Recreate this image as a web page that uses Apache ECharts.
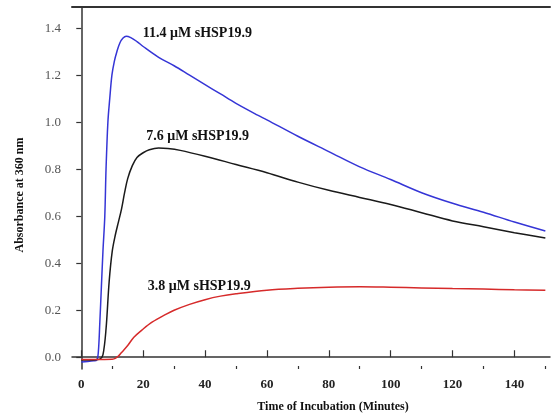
<!DOCTYPE html>
<html>
<head>
<meta charset="utf-8">
<script src="https://cdn.jsdelivr.net/npm/echarts@6/dist/echarts.min.js"></script>
<style>html,body{margin:0;padding:0;background:#fff}#c{width:551px;height:418px}</style>
</head>
<body>
<div id="c"></div>
<script>
var xTicks = [0, 20, 40, 60, 80, 100, 120, 140];
var xMinorTicks = [10, 30, 50, 70, 90, 110, 130, 150];
var yTicks = [0, 0.2, 0.4, 0.6, 0.8, 1.0, 1.2, 1.4];

var tBlue = [0,2,4,5,5.5,6,6.5,7,7.6,8,8.6,9.2,9.9,10.7,11.5,12.5,13.5,14.5,16,18,20,25,30,35,40,45,50,57,60,70,80,90,100,110,120,130,140,150];
var aBlue = [-0.02,-0.018,-0.015,-0.012,0.02,0.15,0.3,0.45,0.6,0.8,1.0,1.1,1.2,1.26,1.3,1.338,1.358,1.366,1.36,1.343,1.322,1.276,1.24,1.2,1.16,1.12,1.08,1.03,1.01,0.94,0.875,0.81,0.756,0.70,0.655,0.617,0.575,0.537];

var tBlack = [0,3,5,6,7,8,9,10,11,12,13,14,15,16.5,18,20,22,25,28,32,40,50,60,70,80,90,100,110,120,130,140,150];
var aBlack = [-0.012,-0.012,-0.01,-0.008,0.01,0.12,0.32,0.45,0.52,0.575,0.63,0.7,0.76,0.815,0.85,0.87,0.883,0.89,0.888,0.88,0.855,0.82,0.785,0.745,0.71,0.68,0.65,0.615,0.58,0.555,0.53,0.507];

var tRed = [0,5,10,11,12,13,15,17,20,23,27,30,35,40,45,50,60,70,80,90,100,110,120,130,140,150];
var aRed = [-0.01,-0.01,-0.008,-0.005,0.005,0.02,0.05,0.085,0.12,0.15,0.18,0.2,0.225,0.245,0.26,0.27,0.285,0.293,0.298,0.3,0.298,0.295,0.292,0.29,0.287,0.285];

var labels = ['11.4 \u03bcM sHSP19.9', '7.6 \u03bcM sHSP19.9', '3.8 \u03bcM sHSP19.9'];
var labelPos = [[19.9, 1.377], [21.0, 0.938], [21.5, 0.30]];

function pairs(t, a) { return t.map(function (v, i) { return [v, a[i]]; }); }

var serif = "'Liberation Serif','Times New Roman',serif";

function series(name, t, a, color, idx) {
  return {
    name: name, type: 'line', data: pairs(t, a), showSymbol: false,
    smooth: 0.35,
    lineStyle: { color: color, width: 1.5 },
    xAxisIndex: 0, yAxisIndex: 0,
    markPoint: {
      symbol: 'circle', symbolSize: 0, itemStyle: { color: 'rgba(0,0,0,0)' },
      data: [{ coord: labelPos[idx], value: labels[idx] }],
      label: { show: true, position: 'right', distance: 0, formatter: labels[idx],
        color: '#111', fontFamily: serif, fontWeight: 'bold', fontSize: 14 }
    }
  };
}

var chart = echarts.init(document.getElementById('c'));
chart.setOption({
  animation: false,
  grid: { left: 72, right: 1, top: 7, bottom: 47 },
  xAxis: [
    { type: 'value', min: -3, max: 151.5, position: 'bottom',
      name: 'Time of Incubation (Minutes)', nameLocation: 'middle', nameGap: 32,
      nameTextStyle: { fontFamily: serif, fontWeight: 'bold', fontSize: 12, color: '#111', padding: [0, 0, 0, 44] },
      axisLine: { lineStyle: { color: '#333', width: 1.5 } },
      axisTick: { inside: true, length: 7, customValues: xTicks, lineStyle: { color: '#333', width: 1.2 } },
      axisLabel: { customValues: xTicks, margin: 9, fontFamily: serif, fontWeight: 'bold', fontSize: 13, color: '#222' },
      splitLine: { show: false } },
    { type: 'value', min: -3, max: 151.5, position: 'bottom',
      axisLine: { show: false },
      axisTick: { inside: true, length: 3, customValues: xMinorTicks, lineStyle: { color: '#333', width: 1.2 } },
      axisLabel: { show: false }, splitLine: { show: false } },
    { type: 'value', min: -3, max: 151.5, position: 'top',
      axisLine: { lineStyle: { color: '#333', width: 2 } },
      axisTick: { show: false }, axisLabel: { show: false }, splitLine: { show: false } }
  ],
  yAxis: [
    { type: 'value', min: -0.05, max: 1.49,
      name: 'Absorbance at 360 nm', nameLocation: 'middle', nameGap: 46,
      nameTextStyle: { fontFamily: serif, fontWeight: 'bold', fontSize: 12, color: '#111', padding: [0, 14, 0, 0] },
      axisLine: { show: true, lineStyle: { color: '#333', width: 1.5 } },
      axisTick: { show: true, length: 5, customValues: yTicks, lineStyle: { color: '#333', width: 1.2 } },
      axisLabel: { customValues: yTicks, margin: 11, fontFamily: serif, fontSize: 13, color: '#555',
        formatter: function (v) { return v.toFixed(1); } },
      splitLine: { show: false } }
  ],
  series: [
    series('11.4', tBlue, aBlue, '#3535d6', 0),
    series('7.6', tBlack, aBlack, '#1a1a1a', 1),
    series('3.8', tRed, aRed, '#d62a2a', 2)
  ]
});
</script>
</body>
</html>
